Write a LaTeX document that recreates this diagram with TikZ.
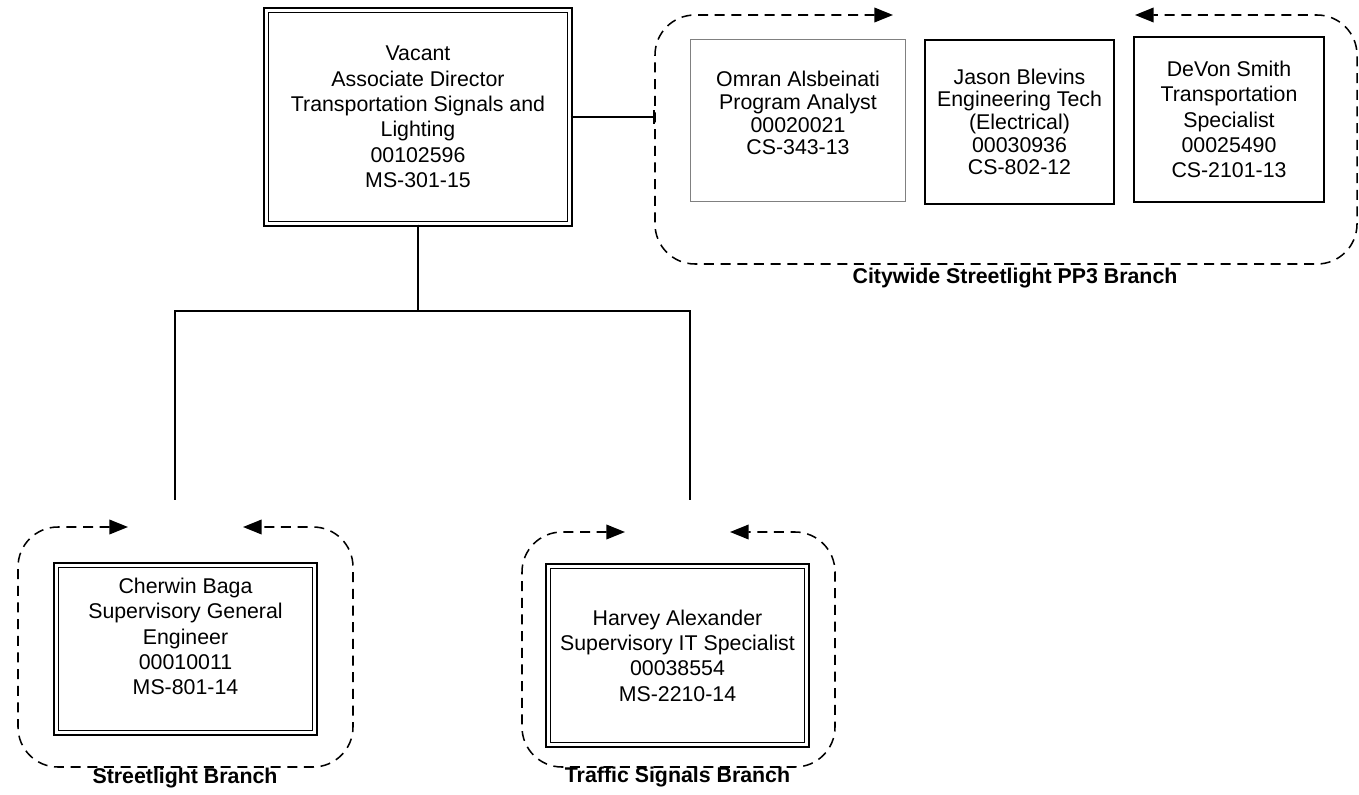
\documentclass[tikz,border=0pt]{standalone}
\usepackage{fontspec}
\setmainfont{Liberation Sans}
\usetikzlibrary{arrows.meta}
\definecolor{postgray}{gray}{0.50}
\newcommand{\orgfont}{\fontsize{16pt}{19pt}\selectfont}
\newcommand{\tightfont}{\fontsize{16pt}{17pt}\selectfont}

\begin{document}
\begin{tikzpicture}[x=0.75pt, y=-0.75pt, every node/.style={font=\orgfont, align=center, inner sep=0pt}]
  \tikzset{
    chiefbox/.style={draw, double, line width=1.25pt, double distance=2.3pt},
    staffbox/.style={draw, line width=1.5pt},
    teamframe/.style={dash pattern=on 7.5pt off 5pt, line width=1.15pt, rounded corners=30pt,
      {Triangle[length=14pt,width=11pt]}-{Triangle[length=14pt,width=11pt]}},
    link/.style={line width=1.5pt},
    branchname/.style={font=\orgfont\bfseries},
  }
  \useasboundingbox (0,0) rectangle (1359,795);

  % associate director
  \node[chiefbox, minimum width=227.7pt, minimum height=160.2pt] (dir) at (418,117)
    {Vacant\\Associate Director\\Transportation Signals and\\Lighting\\00102596\\MS-301-15};

  % team frames: left/right/top/bottom/arrow ends
  \foreach \l/\r/\t/\b/\a/\c in {655/1357/15/264/893/1135, 18/353/527/767/128/243, 522/835/532/767/625/730}{
    \draw[teamframe] (\a,\t) -- (\l,\t) -- (\l,\b) -- (\r,\b) -- (\r,\t) -- (\c,\t);
  }

  % citywide streetlight staff
  \node[staffbox, draw=postgray, line width=0.75pt, font=\tightfont, text depth=11pt,
    minimum width=161.25pt, minimum height=121.5pt] (omran) at (798,120.5)
    {Omran Alsbeinati\\Program Analyst\\00020021\\CS-343-13};
  \foreach \nm/\x/\y/\w/\h/\f/\txt in {jason/1019.5/122/141.75/123/\tightfont/{Jason Blevins\\Engineering Tech\\(Electrical)\\00030936\\CS-802-12},
      devon/1229/119.5/142.5/123.75/\orgfont/{DeVon Smith\\Transportation\\Specialist\\00025490\\CS-2101-13}}{
    \node[staffbox, font=\f, minimum width=\w pt, minimum height=\h pt] (\nm) at (\x,\y) {\txt};
  }

  % branch chiefs
  \node[chiefbox, text depth=19pt, minimum width=194pt, minimum height=125.7pt] (cherwin) at (185.5,649)
    {Cherwin Baga\\Supervisory General\\Engineer\\00010011\\MS-801-14};
  \node[chiefbox, minimum width=194pt, minimum height=134pt] (harvey) at (677.5,655.5)
    {Harvey Alexander\\Supervisory IT Specialist\\00038554\\MS-2210-14};

  \node[branchname] (cwname) at (1015,278) {Citywide Streetlight PP3 Branch};
  \node[branchname] (slname) at (185,778) {Streetlight Branch};
  \node[branchname] (tsname) at (677.5,777) {Traffic Signals Branch};

  % connectors
  \coordinate (cwedge) at (655,15);
  \coordinate (bus) at (0,311);
  \coordinate (slin) at (175,500);
  \coordinate (tsin) at (690,500);
  \draw[link, -{Bar[width=10pt]}] (dir.east) -- (dir.east -| cwedge);
  \draw[link] (dir.south) |- (slin |- bus) -- (slin);
  \draw[link] (dir.south) |- (tsin |- bus) -- (tsin);
\end{tikzpicture}
\end{document}
